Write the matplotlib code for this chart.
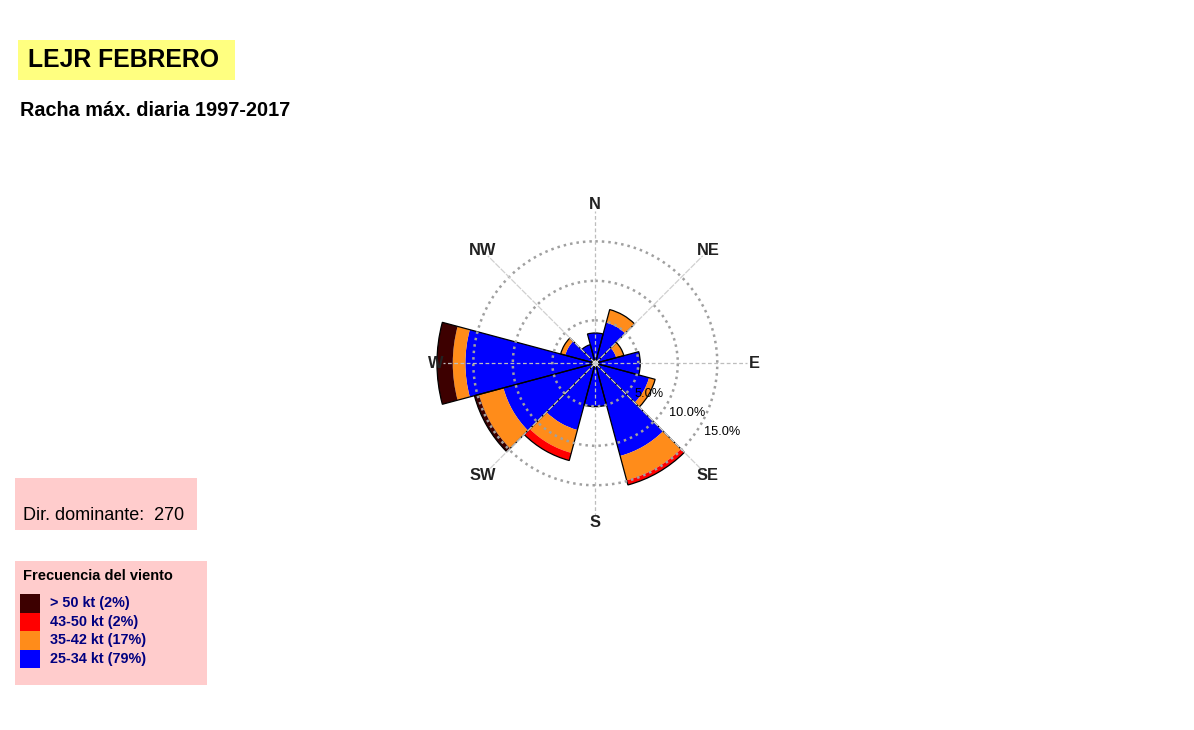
import numpy as np
import matplotlib
matplotlib.use("Agg")
import matplotlib.pyplot as plt
from matplotlib.patches import Rectangle
from matplotlib.transforms import offset_copy

plt.rcParams['font.family'] = ['Liberation Sans', 'DejaVu Sans']

# ---- data ----
directions = [0, 30, 60, 90, 120, 150, 180, 210, 240, 270, 300, 330]
band_25_34 = [3.4, 4.9, 2.3, 5.25, 6.6, 11.7, 5.05, 8.3, 11.6, 16.0, 3.5, 2.0]
band_35_42 = [0.0, 1.7, 1.0, 0.0, 0.8, 3.2, 0.0, 3.0, 3.2, 1.6, 0.6, 0.0]
band_43_50 = [0.0, 0.0, 0.0, 0.0, 0.0, 0.6, 0.0, 1.0, 0.0, 0.0, 0.0, 0.0]
band_gt50 = [0.0, 0.0, 0.0, 0.0, 0.0, 0.0, 0.0, 0.0, 0.6, 2.0, 0.0, 0.0]
band_labels = ["> 50 kt (2%)", "43-50 kt (2%)", "35-42 kt (17%)", "25-34 kt (79%)"]
band_colors = ["#3d0000", "#ff0000", "#ff8c1a", "#0000ff"]
ring_values = [5, 10, 15]
compass = ["N", "NE", "E", "SE", "S", "SW", "W", "NW"]
compass_deg = [0, 45, 90, 135, 180, 225, 270, 315]
title = "LEJR FEBRERO"
subtitle = "Racha máx. diaria 1997-2017"
dominant = "Dir. dominante:  270"
legend_title = "Frecuencia del viento"

W, H = 1194, 730
fig = plt.figure(figsize=(W / 100, H / 100), dpi=100)
fig.patch.set_facecolor("white")

def fx(px):
    return px / W

def fy(py):
    return 1 - py / H

# ---- polar rose ----
cx, cy, R = 595.3, 363.3, 169.4
ax = fig.add_axes([fx(cx - R), fy(cy + R), 2 * R / W, 2 * R / H], projection="polar")
ax.set_theta_zero_location("N")
ax.set_theta_direction(-1)
rmin, rmax = -0.44, 21.0
ax.set_ylim(rmin, rmax)
ax.set_xticks([])
ax.set_yticks([])
ax.grid(False)
ax.spines["polar"].set_visible(False)
ax.patch.set_alpha(0)

theta = np.deg2rad(directions)
width = np.deg2rad(30)
bottom = np.zeros(len(directions))
stack = [band_25_34, band_35_42, band_43_50, band_gt50]
stack_colors = band_colors[::-1]
for vals, col in zip(stack, stack_colors):
    vals = np.array(vals)
    ax.bar(theta, vals, width=width, bottom=bottom, color=col, edgecolor="none",
           linewidth=0, zorder=2)
    bottom = bottom + vals
ax.bar(theta, bottom, width=width, bottom=0, fill=False, edgecolor="black",
       linewidth=0.9, zorder=3)

# grid rings
tt = np.linspace(0, 2 * np.pi, 400)
for rv in ring_values:
    ax.plot(tt, np.full_like(tt, rv), color="#a0a0a0", linestyle=(0, (1, 1.6)),
            linewidth=1.8, zorder=4)
# spokes
spoke_len = 18.8
for d in [0, 90, 180, 270]:
    ax.plot([np.deg2rad(d)] * 2, [rmin, spoke_len], color="#bdbdbd",
            linestyle=(0, (3, 2)), linewidth=0.9, zorder=4)
for d in [45, 135, 225, 315]:
    ax.plot([np.deg2rad(d)] * 2, [rmin, spoke_len], color="#d0d0d0",
            linestyle=(0, (5, 1)), linewidth=0.9, zorder=4)

# ring labels
lab_ang = np.deg2rad(118.5)
lab_tr = offset_copy(ax.transData, fig=fig, x=1, y=-4, units="dots")
for rv in ring_values:
    ax.text(lab_ang, rv, f"{rv:.1f}%", ha="left", va="top", fontsize=9.2,
            color="black", zorder=6, transform=lab_tr)

# compass labels
for lab, d in zip(compass, compass_deg):
    ax.text(np.deg2rad(d), 19.7, lab, ha="center", va="center", fontsize=11.8,
            fontweight="bold", color="#222222", zorder=6)

# ---- title boxes ----
fig.patches.append(Rectangle((fx(18), fy(80)), fx(235) - fx(18), fy(40) - fy(80),
                             transform=fig.transFigure, facecolor="#ffff80",
                             edgecolor="none", zorder=0))
fig.text(fx(28), fy(60), title, fontsize=17.8, fontweight="bold", ha="left",
         va="center", color="black")
fig.text(fx(20), fy(110), subtitle, fontsize=14.3, fontweight="bold", ha="left",
         va="center", color="black")

# dominant direction box
fig.patches.append(Rectangle((fx(15), fy(530)), fx(197) - fx(15), fy(478) - fy(530),
                             transform=fig.transFigure, facecolor="#ffcccc",
                             edgecolor="none", zorder=0))
fig.text(fx(23), fy(515), dominant, fontsize=13, ha="left", va="center",
         color="black")

# legend box
fig.patches.append(Rectangle((fx(15), fy(685)), fx(207) - fx(15), fy(561) - fy(685),
                             transform=fig.transFigure, facecolor="#ffcccc",
                             edgecolor="none", zorder=0))
fig.text(fx(23), fy(576), legend_title, fontsize=10.5, fontweight="bold",
         ha="left", va="center", color="black")
sw_top = 594
sw_h = 18.5
for i, (lab, col) in enumerate(zip(band_labels, band_colors)):
    y0 = sw_top + i * sw_h
    fig.patches.append(Rectangle((fx(20), fy(y0 + sw_h)), fx(39.5) - fx(20),
                                 fy(y0) - fy(y0 + sw_h), transform=fig.transFigure,
                                 facecolor=col, edgecolor="none", zorder=1))
    fig.text(fx(50), fy(y0 + sw_h / 2), lab, fontsize=10.4, fontweight="bold",
             ha="left", va="center", color="#000080")

fig.savefig("out.png", dpi=100)
